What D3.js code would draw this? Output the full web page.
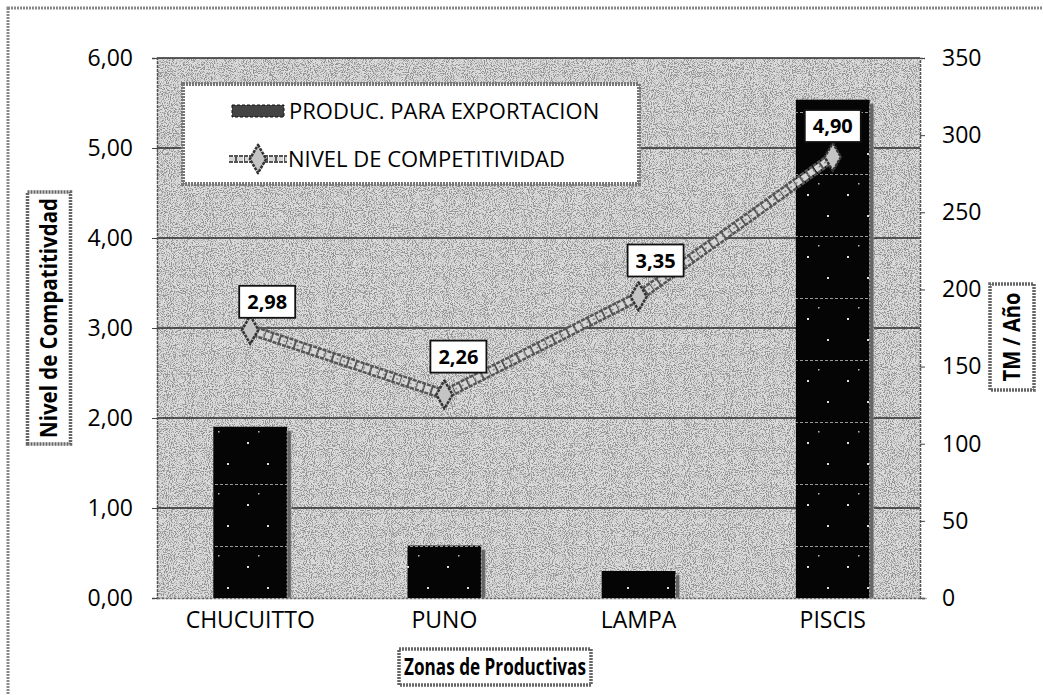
<!DOCTYPE html>
<html>
<head>
<meta charset="utf-8">
<script src="https://cdn.jsdelivr.net/npm/d3@7"></script>
<style>
	body { margin: 0; background: #fff; }
	svg { display: block; font-family: "Open Sans", Lato, sans-serif; }
</style>
</head>
<body>
<script>
// Competitividad vs produccion
const width = 1043;
const height = 695;
const plot = {left: 157, right: 920, top: 58, bottom: 598};

const categorias = ['CHUCUITTO', 'PUNO', 'LAMPA', 'PISCIS'];
const produccion = [111, 34, 17.5, 323];			// TM / Año
const competitividad = [2.98, 2.26, 3.35, 4.90];
const ticksIzq = [0, 1, 2, 3, 4, 5, 6];
const ticksDer = [0, 50, 100, 150, 200, 250, 300, 350];
const etiquetaDx = [17, 14, 17, 0];
const etiquetaDy = [-28, -38, -36, -31];

const fmt = v => d3.format('.2f')(v).replace('.', ',');

const svg = d3.select('body')
	.append('svg')
	.attr('width', width)
	.attr('height', height);

const defs = svg.append('defs');

// grano del escaneo
let grain = defs.append('filter').attr('id', 'grain')
	.attr('x', 0).attr('y', 0).attr('width', 1).attr('height', 1);
grain.append('feTurbulence')
	.attr('type', 'fractalNoise').attr('baseFrequency', 0.95)
	.attr('numOctaves', 2).attr('seed', 4).attr('result', 'n');
grain.append('feColorMatrix').attr('in', 'n').attr('type', 'matrix')
	.attr('values', '0 0 0 0 0  0 0 0 0 0  0 0 0 0 0  -6 0 0 0 3.2')
	.attr('result', 'dots');
grain.append('feComposite').attr('in', 'dots').attr('in2', 'SourceGraphic').attr('operator', 'in');

let barPat = defs.append('pattern').attr('id', 'barPat')
	.attr('patternUnits', 'userSpaceOnUse')
	.attr('width', 40).attr('height', 62).attr('y', 546 - 62 * 9);
barPat.append('rect').attr('width', 40).attr('height', 62).attr('fill', '#050505');
barPat.append('line').attr('x1', 0).attr('x2', 40).attr('y1', 0.5).attr('y2', 0.5)
	.attr('stroke', '#9a9a9a').attr('stroke-width', 1.2).attr('stroke-dasharray', '3,2');
barPat.append('rect').attr('x', 7).attr('y', 20).attr('width', 2).attr('height', 2).attr('fill', '#ddd');
barPat.append('rect').attr('x', 27).attr('y', 41).attr('width', 2).attr('height', 2).attr('fill', '#ddd');
barPat.append('rect').attr('x', 18).attr('y', 9).attr('width', 1.5).attr('height', 1.5).attr('fill', '#bbb');

// borde del area del grafico
svg.append('rect')
	.attr('x', 8).attr('y', 8).attr('width', 1100).attr('height', 800)
	.attr('fill', 'none').attr('stroke', '#888').attr('stroke-width', 3)
	.attr('stroke-dasharray', '2,1');

const xScale = d3.scaleBand()
	.domain(categorias)
	.range([plot.left, plot.right + 6])
	.paddingInner(0.62)
	.paddingOuter(0.29);

const yIzq = d3.scaleLinear().domain([0, 6]).range([plot.bottom, plot.top]);
const yDer = d3.scaleLinear().domain([0, 350]).range([plot.bottom, plot.top]);

// fondo del area de trazado
svg.append('rect')
	.attr('x', plot.left).attr('y', plot.top)
	.attr('width', plot.right - plot.left).attr('height', plot.bottom - plot.top)
	.attr('fill', '#dcdcdc');
svg.append('rect')
	.attr('x', plot.left).attr('y', plot.top)
	.attr('width', plot.right - plot.left).attr('height', plot.bottom - plot.top)
	.attr('fill', '#000').attr('filter', 'url(#grain)').attr('opacity', 0.33);

// lineas de division
svg.append('g')
	.selectAll('line')
	.data(ticksIzq.slice(1))
	.join('line')
	.attr('x1', plot.left).attr('x2', plot.right)
	.attr('y1', d => yIzq(d)).attr('y2', d => yIzq(d))
	.attr('stroke', '#2a2a2a').attr('stroke-width', 1.4);

// ejes
const axIzq = svg.append('g')
	.attr('transform', `translate(${plot.left}, 0)`)
	.call(d3.axisLeft(yIzq).tickValues(ticksIzq).tickFormat(fmt).tickSize(5).tickPadding(19));
const axDer = svg.append('g')
	.attr('transform', `translate(${plot.right}, 0)`)
	.call(d3.axisRight(yDer).tickValues(ticksDer).tickSize(5).tickPadding(17));
const axX = svg.append('g')
	.attr('transform', `translate(0, ${plot.bottom})`)
	.call(d3.axisBottom(xScale).tickSize(0).tickPadding(14));

[axIzq, axDer].forEach(ax => {
	ax.select('.domain').attr('stroke', '#555').attr('stroke-width', 1.5).attr('stroke-dasharray', '3,1');
	ax.selectAll('.tick line').attr('stroke', '#444');
	ax.selectAll('text').attr('font-size', 23).attr('fill', '#000')
		.attr('font-family', '"Open Sans", sans-serif');
});
axX.select('.domain').attr('stroke', '#666').attr('stroke-width', 1.5).attr('stroke-dasharray', '3,1');
axX.selectAll('text').attr('font-size', 23).attr('fill', '#000')
	.attr('font-family', '"Open Sans", sans-serif');

// barras
svg.append('g')
	.selectAll('rect')
	.data(produccion)
	.join('rect')
	.attr('x', (d, i) => xScale(categorias[i]))
	.attr('y', d => yDer(d))
	.attr('width', xScale.bandwidth())
	.attr('height', d => yDer(0) - yDer(d))
	.attr('fill', 'url(#barPat)');
svg.append('g')
	.selectAll('rect')
	.data(produccion)
	.join('rect')
	.attr('x', (d, i) => xScale(categorias[i]) + xScale.bandwidth())
	.attr('y', d => yDer(d) + 4)
	.attr('width', 4)
	.attr('height', d => yDer(0) - yDer(d) - 4)
	.attr('fill', '#666').attr('stroke', '#aaa').attr('stroke-dasharray', '2,2');

// linea de competitividad
let line = d3.line()
	.x((d, i) => xScale(categorias[i]) + xScale.bandwidth() / 2)
	.y(d => yIzq(d));

svg.append('path')
	.attr('d', line(competitividad))
	.attr('fill', 'none').attr('stroke', '#555').attr('stroke-width', 11)
	.attr('stroke-dasharray', '4,1');
svg.append('path')
	.attr('d', line(competitividad))
	.attr('fill', 'none').attr('stroke', '#d6d6d6').attr('stroke-width', 6)
	.attr('stroke-dasharray', '6,2');
svg.append('path')
	.attr('d', line(competitividad))
	.attr('fill', 'none').attr('stroke', '#888').attr('stroke-width', 1.5)
	.attr('stroke-dasharray', '2,5');

const diamond = d3.symbol().type(d3.symbolDiamond).size(230);
svg.append('g')
	.selectAll('path')
	.data(competitividad)
	.join('path')
	.attr('transform', (d, i) => `translate(${xScale(categorias[i]) + xScale.bandwidth() / 2}, ${yIzq(d)})`)
	.attr('d', diamond)
	.attr('fill', '#c4c4c4').attr('stroke', '#333').attr('stroke-width', 2.5)
	.attr('stroke-linejoin', 'round').attr('stroke-dasharray', '3,1');

// etiquetas de datos
let labels = svg.append('g')
	.selectAll('g')
	.data(competitividad)
	.join('g')
	.attr('transform', (d, i) => `translate(${xScale(categorias[i]) + xScale.bandwidth() / 2 + etiquetaDx[i]}, ${yIzq(d) + etiquetaDy[i]})`);
labels.append('rect')
	.attr('x', -28).attr('y', -16).attr('width', 56).attr('height', 32)
	.attr('fill', '#fff').attr('stroke', '#111').attr('stroke-width', 1.8);
labels.append('text')
	.attr('text-anchor', 'middle').attr('y', 7)
	.attr('font-size', 20).attr('font-weight', 'bold').attr('fill', '#000')
	.text(d => fmt(d));

// leyenda
let legend = svg.append('g');
legend.append('rect')
	.attr('x', 183).attr('y', 84).attr('width', 456).attr('height', 100)
	.attr('fill', '#fff').attr('stroke', '#777').attr('stroke-width', 4)
	.attr('stroke-dasharray', '2,1');
legend.append('rect')
	.attr('x', 232).attr('y', 105).attr('width', 52).attr('height', 12)
	.attr('fill', '#444').attr('stroke', '#111').attr('stroke-dasharray', '3,2');
legend.append('text')
	.attr('x', 289).attr('y', 119)
	.attr('font-size', 22).attr('fill', '#000')
	.text('PRODUC. PARA EXPORTACION');
legend.append('line')
	.attr('x1', 229).attr('x2', 287).attr('y1', 159).attr('y2', 159)
	.attr('stroke', '#555').attr('stroke-width', 8).attr('stroke-dasharray', '4,1');
legend.append('line')
	.attr('x1', 229).attr('x2', 287).attr('y1', 159).attr('y2', 159)
	.attr('stroke', '#d6d6d6').attr('stroke-width', 4).attr('stroke-dasharray', '6,2');
legend.append('path')
	.attr('transform', 'translate(258, 159)')
	.attr('d', diamond)
	.attr('fill', '#c4c4c4').attr('stroke', '#333').attr('stroke-width', 2.5)
	.attr('stroke-linejoin', 'round').attr('stroke-dasharray', '3,1');
legend.append('text')
	.attr('x', 288).attr('y', 167)
	.attr('font-size', 22).attr('fill', '#000')
	.text('NIVEL DE COMPETITIVIDAD');

// titulos de ejes
function titulo(x, y, w, h, rot, size, len, texto) {
	let g = svg.append('g').attr('transform', `translate(${x}, ${y}) rotate(${rot})`);
	g.append('rect')
		.attr('x', -w / 2).attr('y', -h / 2).attr('width', w).attr('height', h)
		.attr('fill', '#fff').attr('stroke', '#666').attr('stroke-width', 3.5)
		.attr('stroke-dasharray', '2,1');
	g.append('text')
		.attr('text-anchor', 'middle').attr('y', size * 0.36)
		.attr('font-size', size).attr('font-weight', 'bold').attr('fill', '#000')
		.attr('textLength', len).attr('lengthAdjust', 'spacingAndGlyphs')
		.text(texto);
}
titulo(49, 318, 252, 43, -90, 23, 240, 'Nivel de Compatitivdad');
titulo(1012, 337, 106, 44, -90, 23, 89, 'TM / Año');
titulo(495, 667, 192, 36, 0, 23, 182, 'Zonas de Productivas');
</script>
</body>
</html>
